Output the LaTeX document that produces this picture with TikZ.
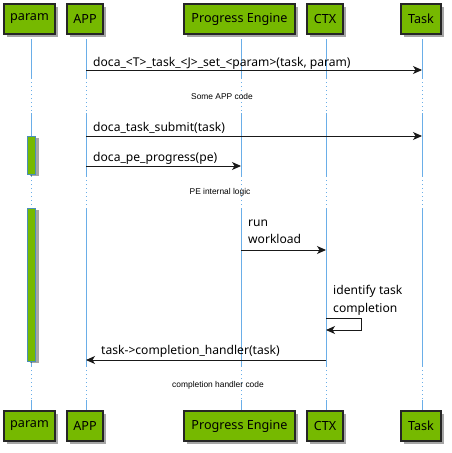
\documentclass[tikz,border=0pt]{standalone}
\usepackage{fontspec}
\setmainfont{Noto Sans}
\newfontfamily\delayfont{Liberation Sans}
\usetikzlibrary{arrows.meta,shadows}
\definecolor{nvgreen}{HTML}{76B900}
\definecolor{lifeblue}{HTML}{6AAEE8}
\definecolor{actborder}{HTML}{4A8FB8}
\begin{document}
\begin{tikzpicture}[x=1pt,y=-1pt,
  pbox/.style={draw=black!85, line width=1.1pt, fill=nvgreen, inner sep=0pt,
    minimum height=30pt, font=\fontsize{12.6}{14}\selectfont,
    drop shadow={shadow xshift=3pt, shadow yshift=-3pt, fill=black, opacity=0.35}},
  life/.style={draw=lifeblue, line width=1pt},
  lifedot/.style={draw=lifeblue, line width=1pt, dash pattern=on 1pt off 3pt},
  actbar/.style={draw=actborder, line width=0.8pt, fill=nvgreen,
    drop shadow={shadow xshift=3pt, shadow yshift=-2pt, fill=black, opacity=0.35}},
  msg/.style={draw=black!90, line width=0.9pt, -{Stealth[length=9pt,width=8pt,inset=2.5pt]}},
  mtext/.style={font=\fontsize{12.1}{17}\selectfont, inner sep=0pt, align=left},
  dtext/.style={font=\delayfont\fontsize{8.4}{9}\selectfont, inner sep=0pt},
]
\useasboundingbox (0,0) rectangle (452,453);
% lifelines
\foreach \n/\x in {param/31,app/86,pe/241,ctx/326,task/422}{
  \draw[life] (\x,39) -- (\x,78);
  \draw[lifedot] (\x,78) -- (\x,113);
  \draw[life] (\x,113) -- (\x,176);
  \draw[lifedot] (\x,176) -- (\x,208);
  \draw[life] (\x,208) -- (\x,366);
  \draw[lifedot] (\x,366) -- (\x,400);
  \draw[life] (\x,400) -- (\x,411);
}
% participants top
\node[pbox, minimum width=51pt] (paramT) at (29.5,19) {param};
\node[pbox, minimum width=36pt] (appT) at (85,19) {APP};
\node[pbox, minimum width=111pt] (peT) at (239.5,19) {Progress Engine};
\node[pbox, minimum width=36pt] (ctxT) at (325,19) {CTX};
\node[pbox, minimum width=40pt] (taskT) at (421,19) {Task};
% participants bottom
\node[pbox, minimum width=51pt] (paramB) at (29.5,426) {param};
\node[pbox, minimum width=36pt] (appB) at (85,426) {APP};
\node[pbox, minimum width=111pt] (peB) at (239.5,426) {Progress Engine};
\node[pbox, minimum width=36pt] (ctxB) at (325,426) {CTX};
\node[pbox, minimum width=40pt] (taskB) at (421,426) {Task};
% activation bars
\draw[actbar] (27.3,136) rectangle (35.7,174);
\draw[actbar] (27.3,208) rectangle (35.7,361);
% messages
\coordinate (m1a) at (86,70); \coordinate (m1b) at (422,70);
\draw[msg] (m1a) -- (m1b);
\node[mtext, anchor=base west] (t1) at (93,66.5) {doca\_<T>\_task\_<J>\_set\_<param>(task, param)};
\node[dtext] (d1) at (222,96) {Some APP code};
\coordinate (m3a) at (86,136); \coordinate (m3b) at (422,136);
\draw[msg] (m3a) -- (m3b);
\node[mtext, anchor=base west] (t3) at (93,131.5) {doca\_task\_submit(task)};
\coordinate (m4a) at (86,166); \coordinate (m4b) at (241,166);
\draw[msg] (m4a) -- (m4b);
\node[mtext, anchor=base west] (t4) at (93,161.5) {doca\_pe\_progress(pe)};
\node[dtext] (d2) at (220,192) {PE internal logic};
\coordinate (m6a) at (241,250); \coordinate (m6b) at (326,250);
\draw[msg] (m6a) -- (m6b);
\node[mtext, anchor=base west] (t6) at (248,226.5) {run};
\node[mtext, anchor=base west] (t6b) at (248,243.5) {workload};
\coordinate (m7a) at (326,318); \coordinate (m7c) at (361,318);
\coordinate (m7d) at (361,330); \coordinate (m7b) at (326,330);
\draw[msg] (m7a) -- (m7c) -- (m7d) -- (m7b);
\node[mtext, anchor=base west] (t7) at (333,294.5) {identify task};
\node[mtext, anchor=base west] (t7b) at (333,312.5) {completion};
\coordinate (m8a) at (326,360); \coordinate (m8b) at (86,360);
\draw[msg] (m8a) -- (m8b);
\node[mtext, anchor=base west] (t8) at (101,354.5) {task->completion\_handler(task)};
\node[dtext] (d3) at (218,385) {completion handler code};
\end{tikzpicture}
\end{document}
